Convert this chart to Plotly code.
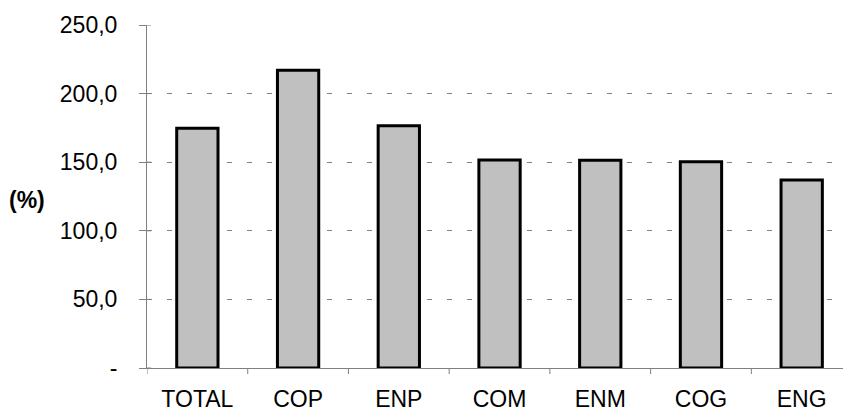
import plotly.graph_objects as go

categories = ["TOTAL", "COP", "ENP", "COM", "ENM", "COG", "ENG"]
values = [174.7, 217.1, 176.6, 151.6, 151.4, 150.4, 137.0]

y_tick_vals = [0, 50, 100, 150, 200, 250]
y_tick_text = ["-", "50,0", "100,0", "150,0", "200,0", "250,0"]

FONT = "Liberation Sans, Arial, sans-serif"
AXIS_GREY = "#808080"

fig = go.Figure(
    go.Bar(
        x=list(range(len(categories))),
        y=values,
        width=0.41,
        marker=dict(color="#C0C0C0", line=dict(color="#000000", width=3)),
        hoverinfo="skip",
    )
)

fig.update_layout(
    width=843,
    height=412,
    margin=dict(l=147, r=0, t=25, b=44, autoexpand=False),
    paper_bgcolor="#FFFFFF",
    plot_bgcolor="#FFFFFF",
    showlegend=False,
    font=dict(family=FONT, size=23, color="#000000"),
)

fig.update_xaxes(
    range=[-0.5, 6.41],
    tickmode="array",
    tickvals=list(range(len(categories))),
    ticktext=categories,
    tickfont=dict(family=FONT, size=23, color="#000000"),
    showgrid=False,
    showline=True,
    linecolor=AXIS_GREY,
    linewidth=1,
    ticks="",
    ticklabelstandoff=10,
    zeroline=False,
)

# category boundary tick marks below the axis line
for i in range(len(categories)):
    fig.add_shape(
        type="line", xref="x", yref="paper",
        x0=i - 0.5, x1=i - 0.5, y0=0, y1=-6 / 343,
        line=dict(color=AXIS_GREY, width=1),
    )

# short tick stubs just right of the value axis
for v in y_tick_vals:
    fig.add_shape(
        type="line", xref="paper", yref="y",
        x0=0, x1=4 / 696, y0=v, y1=v,
        line=dict(color=AXIS_GREY, width=1),
    )

fig.update_yaxes(
    range=[0, 250],
    tickmode="array",
    tickvals=y_tick_vals,
    ticktext=y_tick_text,
    tickfont=dict(family=FONT, size=23, color="#000000"),
    showgrid=True,
    gridcolor=AXIS_GREY,
    gridwidth=1,
    griddash="5px,15px",
    showline=True,
    linecolor=AXIS_GREY,
    linewidth=1,
    ticks="outside",
    ticklen=7,
    tickcolor=AXIS_GREY,
    ticklabelstandoff=17,
    zeroline=False,
)

fig.add_annotation(
    text="<b>(%)</b>", xref="paper", yref="paper",
    x=-147 / 696 + 7 / 696, y=(368.3 - 200) / 343.3,
    xanchor="left", yanchor="middle", showarrow=False,
    font=dict(family=FONT, size=23, color="#000000"),
)

fig.write_html("out.html")
